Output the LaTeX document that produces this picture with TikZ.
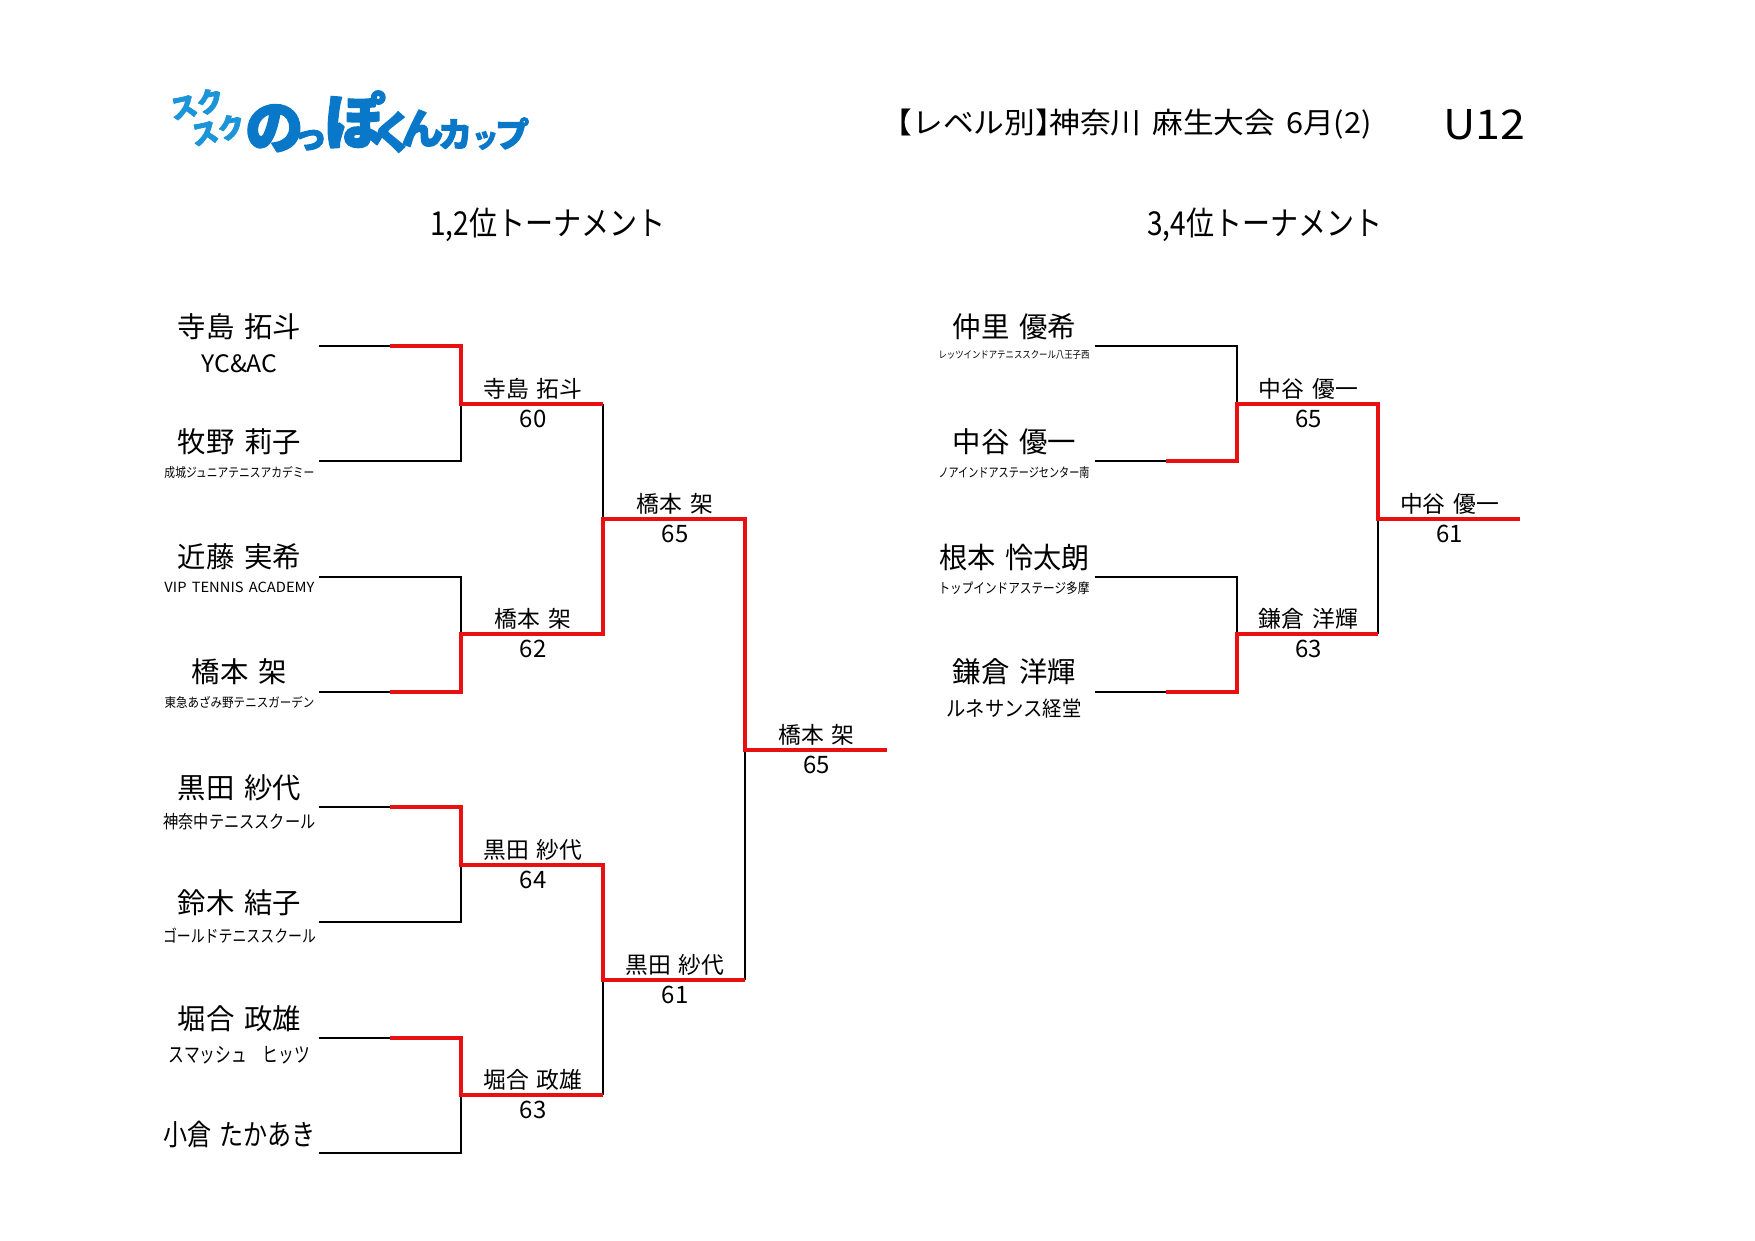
\documentclass[tikz,border=0pt]{standalone}
\usepackage{fontspec}
\usepackage{graphicx}
\newfontfamily\jp{Noto Sans CJK JP}
\newfontfamily\logof[BoldFeatures={FakeBold=3}]{Noto Sans CJK JP}
\definecolor{wred}{HTML}{E81010}
\definecolor{logoA}{HTML}{0A78C8}
\definecolor{logoB}{HTML}{1C94D8}
% natural-width text: size, text
\newcommand{\fs}[2]{{\jp\fontsize{#1}{#1}\selectfont\spaceskip=.35em\rule{0pt}{.88em}\rule[-.12em]{0pt}{1em}#2}}
% width-fitted text: width, size, text
\newcommand{\fw}[3]{\resizebox{#1pt}{\height}{\fs{#2}{#3}}}
\newcommand{\lgo}[2]{\fontsize{#1}{#1}\selectfont #2}
\tikzset{
  txt/.style={inner sep=0pt,outer sep=0pt,anchor=center,text=black},
  blk/.style={draw=black,line width=2pt},
  win/.style={draw=wred,line width=4pt,line join=miter},
  logoa/.style={inner sep=0pt,text=logoA,anchor=base west,font=\logof\bfseries},
  logob/.style={inner sep=0pt,text=logoB,font=\logof\bfseries},
}
\begin{document}
\begin{tikzpicture}[x=1pt,y=-1pt]
\useasboundingbox (0,0) rectangle (1755,1241);
% logo
\begin{scope}[line join=round]
\node[logob,rotate=12] (ls1) at (197,104) {\lgo{27}{スク}};
\node[logob,rotate=12] (ls2) at (218,130) {\lgo{27}{スク}};
\node[logoa] (l1) at (245,148.5) {\lgo{58}{の}\kern-10pt\lgo{34}{っ}\kern-2pt\raisebox{5pt}{\lgo{60}{ぽ}}\kern-14pt\lgo{44}{く}\kern-14pt\raisebox{4.5pt}{\lgo{42}{ん}}};
\node[logoa] (l2) at (438,147) {\lgo{34}{カ}\lgo{26}{ッ}\kern-3pt\lgo{34}{プ}};
\end{scope}
% headers
\node[txt] (title) at (1126.7,123.5) {\fw{490}{29}{【レベル別】\kern-.55em神奈川 麻生大会 6月(2)}};
\node[txt] (age) at (1484.5,123.5) {\fw{82}{41}{U12}};
\node[txt] (h1) at (548,224) {\fw{235.5}{33}{1,2位トーナメント}};
\node[txt] (h2) at (1264.8,224) {\fw{235}{33}{3,4位トーナメント}};
% left coordinates
\foreach \n/\y in {1/345.7,2/461,3/577,4/692.3,5/807.3,6/922.3,7/1037.7,8/1152.7}{
  \coordinate (p\n) at (319,\y);
  \coordinate (h\n) at (390,\y);
}
\foreach \n/\y in {1/403.7,2/634.3,3/865,4/1095}{
  \coordinate (j\n) at (461,\y);
  \coordinate (k\n) at (603,\y);
}
\coordinate (s1) at (603,518.7);
\coordinate (s2) at (603,980);
\coordinate (t1) at (745,518.7);
\coordinate (t2) at (745,980);
\coordinate (f) at (745,749.6);
\coordinate (e) at (887,749.6);
% right coordinates
\foreach \n/\y in {1/345.7,2/461,3/577,4/692.3}{
  \coordinate (q\n) at (1094.6,\y);
  \coordinate (r\n) at (1166,\y);
}
\coordinate (rj1) at (1236.5,403.7);
\coordinate (rk1) at (1378,403.7);
\coordinate (rj2) at (1236.5,634.3);
\coordinate (rk2) at (1378,634.3);
\coordinate (rf) at (1378,518.7);
\coordinate (re) at (1520,518.7);
% black lines
\draw[blk] (p1) -| (j1) (p2) -| (j1);
\draw[blk] (p3) -| (j2) (p4) -| (j2);
\draw[blk] (p5) -| (j3) (p6) -| (j3);
\draw[blk] (p7) -| (j4) (p8) -| (j4);
\draw[blk] (k1) -- (k2) (k3) -- (k4);
\draw[blk] (t1) -- (t2);
\draw[blk] (q1) -| (rj1) (q2) -| (rj1);
\draw[blk] (q3) -| (rj2) (q4) -| (rj2);
\draw[blk] (rk1) -- (rk2);
% red lines
\draw[win] (h1) -| (j1) -- (k1);
\draw[win] (h4) -| (j2) -- (k2) -- (s1) -- (t1) -- (f) -- (e);
\draw[win] (h5) -| (j3) -- (k3) -- (s2) -- (t2);
\draw[win] (h7) -| (j4) -- (k4);
\draw[win] (r2) -| (rj1) -- (rk1) -- (rf) -- (re);
\draw[win] (r4) -| (rj2) -- (rk2);
% left players
\node[txt] (n1) at (239.5,327) {\fs{28.4}{寺島 拓斗}};
\node[txt] (c1) at (239.5,363.5) {\fw{76}{24}{YC\&AC}};
\node[txt] (n2) at (239.5,442) {\fs{28.4}{牧野 莉子}};
\node[txt] (c2) at (239.5,473) {\fw{150}{13}{成城ジュニアテニスアカデミー}};
\node[txt] (n3) at (239.5,557) {\fs{28.4}{近藤 実希}};
\node[txt] (c3) at (239.5,587.5) {\fw{150}{14}{VIP TENNIS ACADEMY}};
\node[txt] (n4) at (239.5,672) {\fs{28.4}{橋本 架}};
\node[txt] (c4) at (239.5,702.5) {\fw{150}{13}{東急あざみ野テニスガーデン}};
\node[txt] (n5) at (239.5,788) {\fs{28.4}{黒田 紗代}};
\node[txt] (c5) at (239.5,821.5) {\fw{152}{18}{神奈中テニススクール}};
\node[txt] (n6) at (239.5,903) {\fs{28.4}{鈴木 結子}};
\node[txt] (c6) at (239.5,936) {\fw{153}{17}{ゴールドテニススクール}};
\node[txt] (n7) at (239.5,1018.5) {\fs{28.4}{堀合 政雄}};
\node[txt] (c7) at (239.5,1055) {\fw{141}{21}{スマッシュ　ヒッツ}};
\node[txt] (n8) at (239.5,1134) {\fw{153}{29}{小倉 たかあき}};
% right players
\node[txt] (n9) at (1014.5,327) {\fs{28.4}{仲里 優希}};
\node[txt] (c9) at (1014,354.5) {\fw{151}{10}{レッツインドアテニススクール八王子西}};
\node[txt] (n10) at (1014.5,442) {\fs{28.4}{中谷 優一}};
\node[txt] (c10) at (1014,472.5) {\fw{151}{13}{ノアインドアステージセンター南}};
\node[txt] (n11) at (1014.5,557) {\fw{151}{29}{根本 怜太朗}};
\node[txt] (c11) at (1014,588.5) {\fw{151}{14}{トップインドアステージ多摩}};
\node[txt] (n12) at (1014.5,672) {\fs{28.4}{鎌倉 洋輝}};
\node[txt] (c12) at (1014,709) {\fw{135}{21}{ルネサンス経堂}};
% match labels
\foreach \id/\x/\y/\who/\scr in {
  a/533/403.7/寺島 拓斗/60, b/533/634.3/橋本 架/62, c/533/865/黒田 紗代/64, d/533/1095/堀合 政雄/63,
  g/675/518.7/橋本 架/65, i/675/980/黒田 紗代/61, z/816.5/749.6/橋本 架/65,
  m/1308.5/403.7/中谷 優一/65, o/1308.5/634.3/鎌倉 洋輝/63, y/1449.6/518.7/中谷 優一/61}{
  \node[txt] (w\id) at (\x,\y-15) {\fs{22.8}{\who}};
  \node[txt] (v\id) at (\x,\y+14.5) {\fs{24}{\scr}};
}
\end{tikzpicture}
\end{document}
